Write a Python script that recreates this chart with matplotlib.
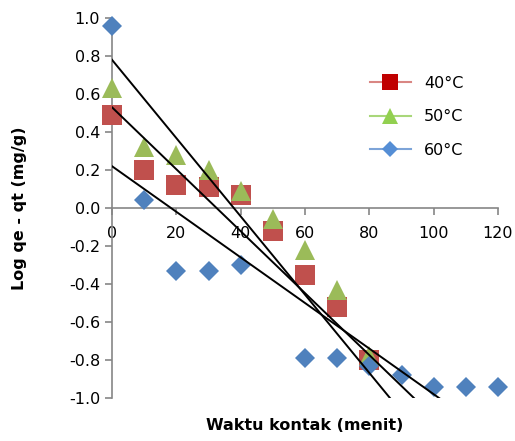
import numpy as np
import matplotlib.pyplot as plt
from matplotlib.lines import Line2D

# data
waktu = [0, 10, 20, 30, 40, 50, 60, 70, 80]
log_40 = [0.49, 0.20, 0.12, 0.11, 0.07, -0.12, -0.35, -0.52, -0.80]
log_50 = [0.63, 0.32, 0.28, 0.20, 0.09, -0.06, -0.22, -0.43, -0.78]
waktu_60 = [0, 10, 20, 30, 40, 60, 70, 80, 90, 100, 110, 120]
log_60 = [0.96, 0.04, -0.33, -0.33, -0.30, -0.79, -0.79, -0.83, -0.88, -0.94, -0.94, -0.94]

# garis trend (intercept, slope)
trend_intercept = [0.78, 0.53, 0.22]
trend_slope = [-0.0206, -0.0163, -0.0120]

c40 = '#C0504D'
c50 = '#9BBB59'
c60 = '#4F81BD'
axis_col = '#868686'

fig = plt.figure(figsize=(5.15, 4.41), dpi=100)
ax = fig.add_axes([112/515, 43/441, 386/515, 380/441])

ax.plot(waktu, log_40, 's', color=c40, markersize=14, markeredgewidth=0, zorder=3, clip_on=False)
ax.plot(waktu, log_50, '^', color=c50, markersize=14, markeredgewidth=0, zorder=4, clip_on=False)
ax.plot(waktu_60, log_60, 'D', color=c60, markersize=10, markeredgewidth=0, zorder=5, clip_on=False)

xx = np.array([0, 120])
for b, m in zip(trend_intercept, trend_slope):
    ax.plot(xx, b + m * xx, color='black', lw=1.4, zorder=6)

yt = np.round(np.arange(-1.0, 1.01, 0.2), 1)
ax.set_xlim(0, 120)
ax.set_ylim(-1.0, 1.0)
ax.set_xticks(range(0, 121, 20))
ax.set_yticks(yt)
ax.set_yticklabels([f'{abs(v):.1f}' if v == 0 else f'{v:.1f}' for v in yt])

ax.spines['top'].set_visible(False)
ax.spines['right'].set_visible(False)
ax.spines['bottom'].set_position(('data', 0))
for s in ['left', 'bottom']:
    ax.spines[s].set_color(axis_col)
    ax.spines[s].set_linewidth(1.2)
ax.tick_params(colors=axis_col, labelcolor='black', labelsize=11.5, length=5, width=1.2)
ax.tick_params(axis='x', pad=8)

fig.text(20/515, 1 - 208/441, 'Log qe - qt (mg/g)', rotation=90, ha='center', va='center',
         fontsize=11.5, fontweight='bold')
fig.text(305/515, 1 - 425/441, 'Waktu kontak (menit)', ha='center', va='center',
         fontsize=11.5, fontweight='bold')

handles = [
    Line2D([], [], color='#D98683', marker='s', markerfacecolor='#C00000', markeredgewidth=0, markersize=11),
    Line2D([], [], color='#A9D77A', marker='^', markerfacecolor='#92D050', markeredgewidth=0, markersize=11),
    Line2D([], [], color='#7DA4D8', marker='D', markerfacecolor='#558ED5', markeredgewidth=0, markersize=8),
]
ax.legend(handles, ['40°C', '50°C', '60°C'], loc='upper left', bbox_to_anchor=(0.63, 0.885),
          frameon=False, fontsize=11.5, labelspacing=1.15, handlelength=2.6)

fig.savefig('out.png', dpi=100)
